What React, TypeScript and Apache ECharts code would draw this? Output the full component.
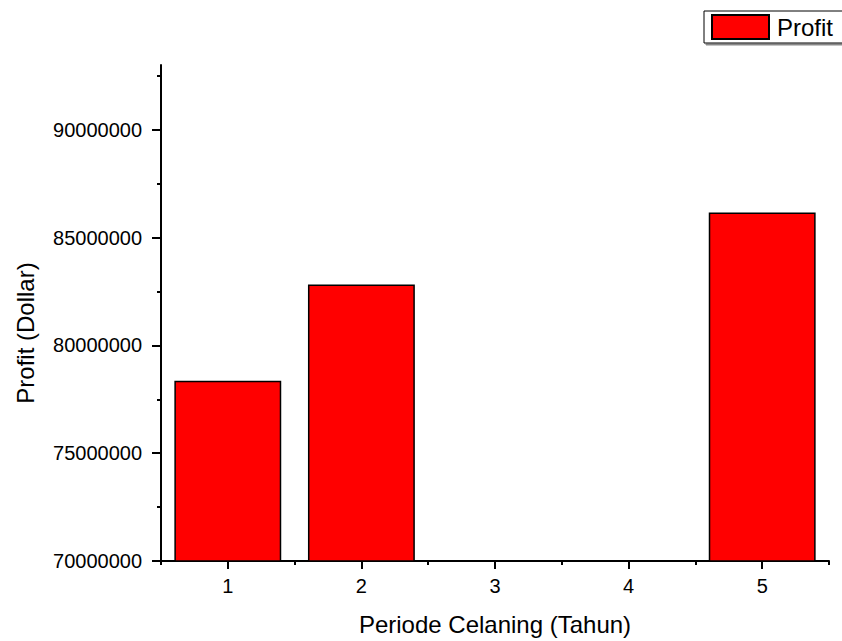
import React, { useEffect, useRef } from "react";
import * as echarts from "echarts";

const categories = ["1", "2", "3", "4", "5"];
const profitValues: (number | null)[] = [78360000, 82820000, null, null, 86160000];
const yMajorTicks = [70000000, 75000000, 80000000, 85000000, 90000000];
const yMinorTicks = [72500000, 77500000, 82500000, 87500000, 92500000];
const yMin = 70000000;
const yMax = 93000000;
const seriesName = "Profit";
const xTitle = "Periode Celaning (Tahun)";
const yTitle = "Profit (Dollar)";

const FONT = 'Arial, "Liberation Sans", sans-serif';

export default function App() {
  const ref = useRef<HTMLDivElement>(null);
  useEffect(() => {
    if (!ref.current) return;
    const chart = echarts.init(ref.current, undefined, { renderer: "svg" });
    const axisLine = { show: true, lineStyle: { color: "#000", width: 2 } };
    chart.setOption({
      animation: false,
      backgroundColor: "#fff",
      grid: { left: 161, right: 13, top: 65, bottom: 75 },
      legend: {
        data: [seriesName],
        left: 704,
        top: 11,
        padding: [3, 20, 3, 7],
        borderColor: "#000",
        borderWidth: 1,
        backgroundColor: "#fff",
        shadowColor: "#888",
        shadowOffsetX: 2,
        shadowOffsetY: 2,
        shadowBlur: 0,
        itemWidth: 57,
        itemHeight: 24,
        icon: "rect",
        textStyle: { fontFamily: FONT, fontSize: 24, color: "#000", padding: [0, 0, 0, 3] },
      },
      xAxis: [
        {
          type: "category",
          data: categories,
          position: "bottom",
          axisLine,
          axisTick: { show: true, alignWithLabel: true, inside: false, length: 8, lineStyle: { color: "#000", width: 2 } },
          axisLabel: { fontFamily: FONT, fontSize: 20, color: "#000", margin: 15 },
          splitLine: { show: false },
          name: xTitle,
          nameLocation: "middle",
          nameGap: 51,
          nameTextStyle: { fontFamily: FONT, fontSize: 24, color: "#000" },
        },
        {
          type: "category",
          data: categories,
          position: "bottom",
          axisLine: { show: false },
          axisTick: { show: true, alignWithLabel: false, inside: false, length: 4, lineStyle: { color: "#000", width: 2 } },
          axisLabel: { show: false },
          splitLine: { show: false },
        },
      ],
      yAxis: [
        {
          type: "value",
          min: yMin,
          max: yMax,
          position: "left",
          axisLine,
          axisTick: { show: true, inside: false, length: 9, customValues: yMajorTicks, lineStyle: { color: "#000", width: 2 } },
          axisLabel: {
            fontFamily: FONT,
            fontSize: 20,
            color: "#000",
            margin: 19,
            customValues: yMajorTicks,
            formatter: (v: number) => String(v),
          },
          splitLine: { show: false },
        },
        {
          type: "value",
          min: yMin,
          max: yMax,
          position: "left",
          axisLine: { show: false },
          axisTick: { show: true, inside: false, length: 4, customValues: yMinorTicks, lineStyle: { color: "#000", width: 2 } },
          axisLabel: { show: false },
          splitLine: { show: false },
        },
      ],
      graphic: [
        {
          type: "text",
          x: 25,
          y: 333,
          rotation: Math.PI / 2,
          style: {
            text: yTitle,
            fontFamily: FONT,
            fontSize: 24,
            fill: "#000",
            align: "center",
            verticalAlign: "middle",
          },
        },
      ],
      series: [
        {
          name: seriesName,
          type: "bar",
          xAxisIndex: 0,
          yAxisIndex: 0,
          data: profitValues,
          barWidth: "80%",
          itemStyle: { color: "#ff0000", borderColor: "#000", borderWidth: 1.5 },
        },
      ],
    });
    return () => chart.dispose();
  }, []);
  return (
    <div
      ref={ref}
      style={{ position: "absolute", left: 0, top: 0, width: 842, height: 641 }}
    />
  );
}
